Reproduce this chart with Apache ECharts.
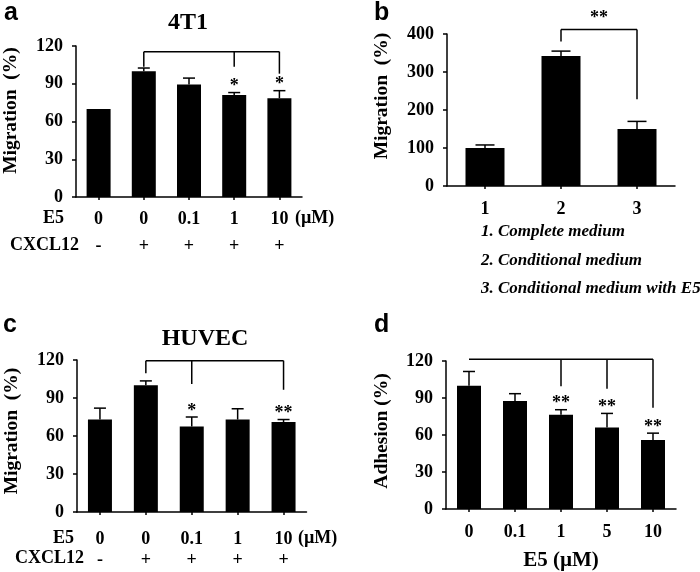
<!DOCTYPE html>
<html>
<head>
<meta charset="utf-8">
<script src="https://cdn.jsdelivr.net/npm/echarts@6/dist/echarts.min.js"></script>
<style>html,body{margin:0;padding:0;background:#fff;}#c{width:700px;height:572px;}</style>
</head>
<body>
<div id="c"></div>
<script>
// ---------- DATA ----------
// Panel a (4T1)
const catsA = ['0', '0', '0.1', '1', '10'];
const cxclA = ['-', '+', '+', '+', '+'];
const valsA = [70, 100, 89.5, 81, 78.5];
const errA = [0, 2.5, 5, 2, 6];
const starsA = ['', '', '', '*', '*'];
const bracketTopA = 115.5;
const bracketLegsA = [[1, 103.5], [3, 103.5], [4, 98]];

// Panel b
const catsB = ['1', '2', '3'];
const valsB = [100, 342, 150];
const errB = [8, 13, 20];
const bracketTopB = 412;
const bracketLegsB = [[1, 380], [2, 228]];
const bracketStarB = '**';
const bracketStarValB = 442;
const legendB = ['1. Complete medium', '2. Conditional medium', '3. Conditional medium with E5'];

// Panel c (HUVEC)
const catsC = ['0', '0', '0.1', '1', '10'];
const cxclC = ['-', '+', '+', '+', '+'];
const valsC = [73, 100, 67.5, 73, 71];
const errC = [9, 3.5, 7.5, 8.5, 2];
const starsC = ['', '', '*', '', '**'];
const bracketTopC = 119.5;
const bracketLegsC = [[1, 109.5], [2, 101], [4, 96.5]];

// Panel d (Adhesion)
const catsD = ['0', '0.1', '1', '5', '10'];
const valsD = [100, 87.5, 76.5, 66, 56];
const errD = [11.5, 6, 4, 11.5, 5.5];
const starsD = ['', '', '**', '**', '**'];
const bracketTopD = 121.5;
const bracketLegsD = [[0, 121.5], [2, 99.5], [3, 97.5], [4, 82]];

// ---------- STYLE ----------
const SERIF = '"Liberation Serif", "Times New Roman", serif';
const SANS = '"Liberation Sans", Arial, sans-serif';
const BLACK = '#000';

const chart = echarts.init(document.getElementById('c'), null, {renderer: 'canvas'});

function yAxis(gi, max, interval, name, nameGap, shift, margin) {
  return {
    type: 'value', gridIndex: gi, min: 0, max: max, interval: interval,
    name: name, nameLocation: 'middle', nameGap: nameGap,
    nameTextStyle: {fontFamily: SERIF, fontWeight: 'bold', fontSize: 19.5, color: BLACK, padding: [0, 0, 0, shift]},
    axisLine: {show: true, lineStyle: {color: BLACK, width: 1.5}},
    axisTick: {show: true, length: 4, lineStyle: {color: BLACK, width: 1.5}},
    axisLabel: {fontFamily: SERIF, fontWeight: 'bold', fontSize: 18, color: BLACK, margin: margin},
    splitLine: {show: false}
  };
}

function xAxis(gi, cats, extra) {
  return Object.assign({
    type: 'category', gridIndex: gi, data: cats,
    axisLine: {show: true, lineStyle: {color: BLACK, width: 1.5}},
    axisTick: {show: true, alignWithLabel: true, length: 3, lineStyle: {color: BLACK, width: 1.5}},
    axisLabel: {interval: 0, fontFamily: SERIF, fontWeight: 'bold', fontSize: 18, color: BLACK, margin: 11},
    splitLine: {show: false}
  }, extra || {});
}

function twoRowLabel(cxcl, lh, margin) {
  return {
    interval: 0, margin: margin, color: BLACK,
    formatter: function (v, i) { return '{e|' + v + '}\n{c|' + cxcl[i] + '}'; },
    rich: {
      e: {fontFamily: SERIF, fontWeight: 'bold', fontSize: 18, lineHeight: lh, color: BLACK},
      c: {fontFamily: SERIF, fontWeight: 'bold', fontSize: 18, lineHeight: lh, color: BLACK}
    }
  };
}

function barSeries(gi, vals, width) {
  return {
    type: 'bar', xAxisIndex: gi, yAxisIndex: gi, data: vals, barWidth: width,
    itemStyle: {color: BLACK}, silent: true, animation: false
  };
}

function errSeries(gi, vals, errs, capW) {
  return {
    type: 'custom', xAxisIndex: gi, yAxisIndex: gi, silent: true, animation: false, z: 3,
    data: vals.map(function (v, i) { return [i, v, errs[i]]; }),
    renderItem: function (params, api) {
      const i = api.value(0), v = api.value(1), e = api.value(2);
      if (!e) return null;
      const b = api.coord([i, v]);
      const t = api.coord([i, v + e]);
      const st = {stroke: BLACK, lineWidth: 1.5};
      return {type: 'group', children: [
        {type: 'line', shape: {x1: b[0], y1: b[1], x2: t[0], y2: t[1]}, style: st},
        {type: 'line', shape: {x1: t[0] - capW / 2, y1: t[1], x2: t[0] + capW / 2, y2: t[1]}, style: st}
      ]};
    }
  };
}

function starSeries(gi, vals, errs, stars) {
  return {
    type: 'custom', xAxisIndex: gi, yAxisIndex: gi, silent: true, animation: false, z: 4,
    data: vals.map(function (v, i) { return [i, v + errs[i]]; }),
    renderItem: function (params, api) {
      const s = stars[params.dataIndex];
      if (!s) return null;
      const p = api.coord([api.value(0), api.value(1)]);
      return {type: 'text', x: p[0], y: p[1] + 3, style: {
        text: s, fill: BLACK, align: 'center', verticalAlign: 'bottom',
        font: 'bold 18px ' + SERIF
      }};
    }
  };
}

function bracketSeries(gi, top, legs, star, starVal) {
  return {
    type: 'custom', xAxisIndex: gi, yAxisIndex: gi, silent: true, animation: false, z: 4,
    data: [[legs[0][0], top]],
    renderItem: function (params, api) {
      const st = {stroke: BLACK, lineWidth: 1.5};
      const children = [];
      const a = api.coord([legs[0][0], top]);
      const z = api.coord([legs[legs.length - 1][0], top]);
      children.push({type: 'line', shape: {x1: a[0], y1: a[1], x2: z[0], y2: z[1]}, style: st});
      legs.forEach(function (l) {
        const p1 = api.coord([l[0], top]);
        const p2 = api.coord([l[0], l[1]]);
        if (Math.abs(p2[1] - p1[1]) > 0.5) {
          children.push({type: 'line', shape: {x1: p1[0], y1: p1[1], x2: p2[0], y2: p2[1]}, style: st});
        }
      });
      if (star) {
        const s = api.coord([legs[0][0], starVal]);
        children.push({type: 'text', x: (a[0] + z[0]) / 2, y: s[1], style: {
          text: star, fill: BLACK, align: 'center', verticalAlign: 'middle', font: 'bold 18px ' + SERIF
        }});
      }
      return {type: 'group', children: children};
    }
  };
}

function txt(text, left, top, size, opts) {
  return Object.assign({
    type: 'text', left: left, top: top, silent: true,
    style: {text: text, fill: BLACK, font: 'bold ' + size + 'px ' + SERIF}
  }, opts || {});
}

const option = {
  backgroundColor: '#fff',
  animation: false,
  title: [
    {text: 'a', left: 4, top: 1, textStyle: {fontFamily: SANS, fontWeight: 'bold', fontSize: 25, color: BLACK}, padding: 0},
    {text: 'b', left: 374, top: 1, textStyle: {fontFamily: SANS, fontWeight: 'bold', fontSize: 25, color: BLACK}, padding: 0},
    {text: 'c', left: 3, top: 313, textStyle: {fontFamily: SANS, fontWeight: 'bold', fontSize: 25, color: BLACK}, padding: 0},
    {text: 'd', left: 374, top: 313, textStyle: {fontFamily: SANS, fontWeight: 'bold', fontSize: 25, color: BLACK}, padding: 0},
    {text: '4T1', left: 188, top: 11, textAlign: 'center', padding: 0, textStyle: {fontFamily: SERIF, fontWeight: 'bold', fontSize: 24, color: BLACK}},
    {text: 'HUVEC', left: 205, top: 327, textAlign: 'center', padding: 0, textStyle: {fontFamily: SERIF, fontWeight: 'bold', fontSize: 24, color: BLACK}}
  ],
  grid: [
    {left: 72, top: 46, width: 230, height: 151},
    {left: 447, top: 34, width: 228, height: 152},
    {left: 77, top: 360, width: 229.5, height: 152},
    {left: 446, top: 361, width: 230, height: 152}
  ],
  xAxis: [
    xAxis(0, catsA, {axisLabel: twoRowLabel(cxclA, 26.7, 9)}),
    xAxis(1, catsB, {axisLabel: {interval: 0, fontFamily: SERIF, fontWeight: 'bold', fontSize: 18, color: BLACK, margin: 14}}),
    xAxis(2, catsC, {axisLabel: twoRowLabel(cxclC, 21, 17)}),
    xAxis(3, catsD, {name: 'E5 (\u00b5M)', nameLocation: 'middle', nameGap: 41,
      nameTextStyle: {fontFamily: SERIF, fontWeight: 'bold', fontSize: 21, color: BLACK},
      axisLabel: {interval: 0, fontFamily: SERIF, fontWeight: 'bold', fontSize: 18, color: BLACK, margin: 14}})
  ],
  yAxis: [
    yAxis(0, 120, 30, 'Migration  (%)', 55, 22, 13),
    yAxis(1, 400, 100, 'Migration  (%)', 55, 28, 13),
    yAxis(2, 120, 30, 'Migration  (%)', 55, 10, 13),
    yAxis(3, 120, 30, 'Adhesion (%)', 54, 8, 13)
  ],
  series: [
    barSeries(0, valsA, 24), errSeries(0, valsA, errA, 12), starSeries(0, valsA, errA, starsA),
    bracketSeries(0, bracketTopA, bracketLegsA),
    barSeries(1, valsB, 39), errSeries(1, valsB, errB, 19),
    bracketSeries(1, bracketTopB, bracketLegsB, bracketStarB, bracketStarValB),
    barSeries(2, valsC, 24), errSeries(2, valsC, errC, 12), starSeries(2, valsC, errC, starsC),
    bracketSeries(2, bracketTopC, bracketLegsC),
    barSeries(3, valsD, 24), errSeries(3, valsD, errD, 12), starSeries(3, valsD, errD, starsD),
    bracketSeries(3, bracketTopD, bracketLegsD)
  ],
  graphic: [
    txt('E5', 43, 209, 18),
    txt('CXCL12', 10, 236, 18),
    txt('(\u00b5M)', 295, 209, 18),
    txt('E5', 53, 529, 18),
    txt('CXCL12', 15, 549, 18),
    txt('(\u00b5M)', 298, 529, 18),
    txt(legendB[0], 481, 223, 17, {style: {text: legendB[0], fill: BLACK, font: 'italic bold 17px ' + SERIF}}),
    txt(legendB[1], 481, 252, 17, {style: {text: legendB[1], fill: BLACK, font: 'italic bold 17px ' + SERIF}}),
    txt(legendB[2], 481, 280, 17, {style: {text: legendB[2], fill: BLACK, font: 'italic bold 17px ' + SERIF}})
  ]
};
chart.setOption(option);
</script>
</body>
</html>
